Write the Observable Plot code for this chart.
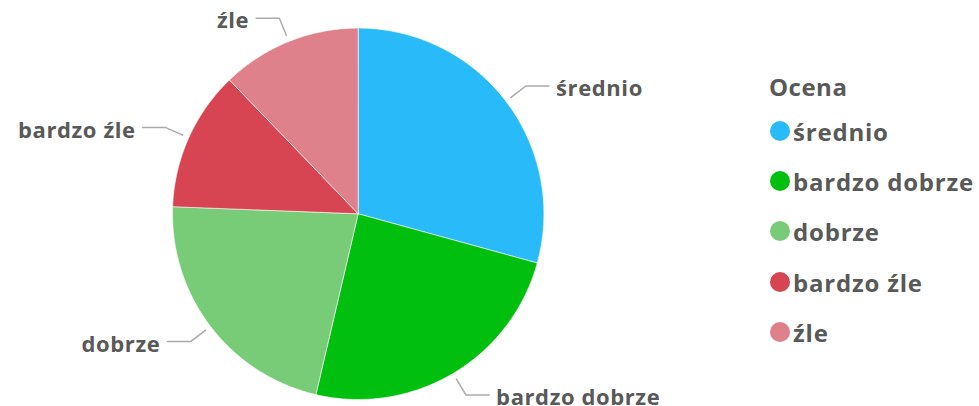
<!DOCTYPE html>
<html><head><meta charset="utf-8">
<script src="https://cdn.jsdelivr.net/npm/d3@7"></script>
<script src="https://cdn.jsdelivr.net/npm/@observablehq/plot@0.6"></script>
<style>
body{margin:0;background:#fff;font-family:"Open Sans",sans-serif;}
#wrap{position:relative;width:979px;height:406px;overflow:hidden;}
#legend{position:absolute;left:0;top:0;color:#595959;font-weight:700;}
.lt{position:absolute;left:769px;top:72px;font-size:24px;line-height:30px;letter-spacing:0.5px;white-space:nowrap;}
.li{position:absolute;left:770px;height:30px;display:flex;align-items:center;font-size:24px;letter-spacing:0.8px;white-space:nowrap;}
.sw{width:20px;height:20px;border-radius:50%;margin-right:3px;flex:none;}
</style></head><body><div id="wrap"></div>
<script>
const categories = ["średnio","bardzo dobrze","dobrze","bardzo źle","źle"];
const values = [12, 10, 9, 5, 5];
const colors = ["#29BBF9","#00BF0F","#78CC77","#D64551","#DE818A"];
const legendTitle = "Ocena";

const arcs = d3.pie().sort(null).value(d => d.value)(categories.map((c, i) => ({label: c, value: values[i]})));

const slicePts = [];
for (const s of arcs) {
  const label = s.data.label;
  const n = Math.max(2, Math.ceil((s.endAngle - s.startAngle) / 0.01));
  slicePts.push({label, a: 0, r: 0});
  for (let k = 0; k <= n; k++) slicePts.push({label, a: s.startAngle + (s.endAngle - s.startAngle) * k / n, r: 1});
  slicePts.push({label, a: 0, r: 0});
}
const leaders = [];
const labels = [];
for (const s of arcs) {
  const label = s.data.label;
  const m = (s.startAngle + s.endAngle) / 2;
  const right = Math.sin(m) >= 0;
  const ex = 1.135 * Math.sin(m), ey = -1.135 * Math.cos(m);
  const endX = ex + (right ? 0.125 : -0.125);
  leaders.push({label, x: 1.035 * Math.sin(m), y: -1.035 * Math.cos(m)});
  leaders.push({label, x: ex, y: ey});
  leaders.push({label, x: endX, y: ey});
  labels.push({label, x: endX, y: ey, right});
}

const textStyle = {fontSize: 22, fontWeight: "bold", fill: "#595959", dy: 3, letterSpacing: "0.6px"};
const plot = Plot.plot({
  width: 979, height: 406, margin: 0,
  style: {background: "white", fontFamily: "Open Sans"},
  x: {domain: [-1, 1], range: [172, 543.4], axis: null},
  y: {domain: [-1, 1], range: [27.6, 399], axis: null},
  color: {domain: categories, range: colors},
  marks: [
    Plot.line(slicePts, {x: d => d.r * Math.sin(d.a), y: d => -d.r * Math.cos(d.a), z: "label", fill: "label", stroke: "white", strokeWidth: 0.6, curve: "linear"}),
    Plot.line(leaders, {x: "x", y: "y", z: "label", stroke: "#aaaaaa", strokeWidth: 1.5}),
    Plot.text(labels.filter(d => d.right), {x: "x", y: "y", text: "label", textAnchor: "start", dx: 7, ...textStyle}),
    Plot.text(labels.filter(d => !d.right), {x: "x", y: "y", text: "label", textAnchor: "end", dx: -7, ...textStyle})
  ]
});
plot.querySelectorAll("text").forEach(t => t.style.letterSpacing = "0.6px");
const wrap = document.getElementById("wrap");
wrap.appendChild(plot);

const legend = document.createElement("div");
legend.id = "legend";
const t = document.createElement("div");
t.className = "lt"; t.textContent = legendTitle;
legend.appendChild(t);
const colorScale = plot.scale("color");
const rowCenters = [132, 182, 232, 283, 333];
categories.forEach((c, i) => {
  const row = document.createElement("div");
  row.className = "li";
  row.style.top = (rowCenters[i] - 16) + "px";
  const sw = document.createElement("div");
  sw.className = "sw";
  sw.style.background = colorScale.apply(c);
  const tx = document.createElement("span");
  tx.textContent = c;
  row.appendChild(sw); row.appendChild(tx);
  legend.appendChild(row);
});
wrap.appendChild(legend);
</script></body></html>
